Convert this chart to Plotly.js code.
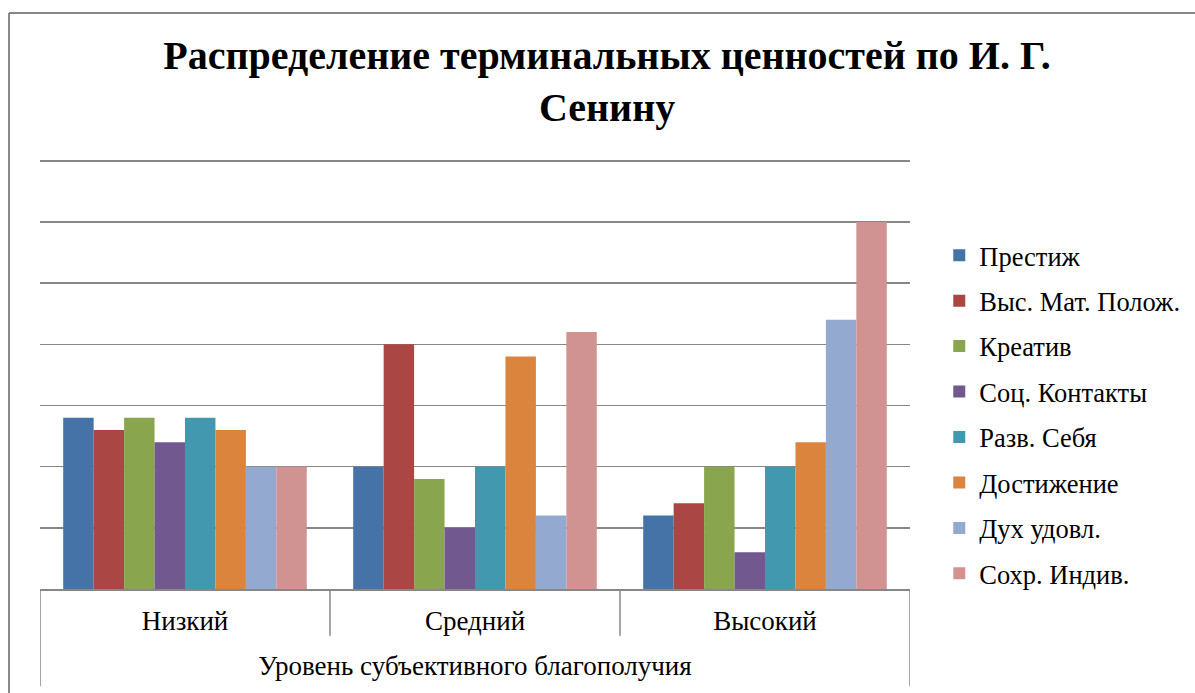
<!DOCTYPE html>
<html>
<head>
<meta charset="utf-8">
<script src="https://cdn.plot.ly/plotly-3.0.1.min.js"></script>
<style>html,body{margin:0;padding:0;background:#fff;}#chart{width:1195px;height:693px;}</style>
</head>
<body>
<div id="chart"></div>
<script>
var categories = ["Низкий", "Средний", "Высокий"];
var seriesNames = ["Престиж", "Выс. Мат. Полож.", "Креатив", "Соц. Контакты", "Разв. Себя", "Достижение", "Дух удовл.", "Сохр. Индив."];
var prestige   = [2.8, 2.0, 1.2];
var material   = [2.6, 4.0, 1.4];
var creative   = [2.8, 1.8, 2.0];
var social     = [2.4, 1.0, 0.6];
var selfDev    = [2.8, 2.0, 2.0];
var achieve    = [2.6, 3.8, 2.4];
var spiritual  = [2.0, 1.2, 4.4];
var individual = [2.0, 4.2, 6.0];
var seriesValues = [prestige, material, creative, social, selfDev, achieve, spiritual, individual];
var colors = ["#4572A7", "#AA4643", "#89A54E", "#71588F", "#4198AF", "#DB843D", "#93A9CF", "#D19392"];

var FAM = "Liberation Serif";

var traces = seriesNames.map(function (name, i) {
  return {
    type: "bar",
    name: name,
    x: categories,
    y: seriesValues[i],
    marker: { color: colors[i], line: { width: 0 } },
    legendgroup: "g" + i,
    hoverinfo: "x+y+name"
  };
});

var gray = "#878787";
var shapes = [];
[-0.5, 0.5, 1.5, 2.5].forEach(function (xv, i) {
  var outer = (i === 0 || i === 3);
  shapes.push({ type: "line", xref: "x", yref: "paper", x0: xv, x1: xv, y0: 0, y1: outer ? -0.226 : -0.109,
    line: { color: gray, width: 1.5 } });
});
// outer chart frame
shapes.push({ type: "line", xref: "paper", yref: "paper", x0: -0.0356, x1: -0.0356, y0: 1.3395, y1: -0.3, line: { color: gray, width: 2 } });
shapes.push({ type: "line", xref: "paper", yref: "paper", x0: -0.0356, x1: 1.4, y0: 1.3395, y1: 1.3395, line: { color: gray, width: 2 } });

var layout = {
  width: 1195,
  height: 693,
  margin: { l: 40, r: 285, t: 159, b: 104 },
  paper_bgcolor: "#ffffff",
  plot_bgcolor: "#ffffff",
  font: { family: FAM, color: "#000000", size: 27 },
  title: {
    text: "<b>Распределение терминальных ценностей по И. Г.<br>Сенину</b>",
    font: { family: FAM, size: 40, color: "#000000" },
    xref: "container", x: 0.508, xanchor: "center",
    yref: "container", y: 0.90, yanchor: "top"
  },
  barmode: "group",
  bargap: 0.16,
  bargroupgap: 0,
  xaxis: {
    type: "category",
    range: [-0.5, 2.5],
    showgrid: false,
    showline: true,
    linecolor: gray,
    linewidth: 1.5,
    ticks: "",
    ticklabelstandoff: 7,
    tickfont: { family: FAM, size: 27, color: "#000000" },
    title: { text: "Уровень субъективного благополучия", font: { family: FAM, size: 27, color: "#000000" }, standoff: 21 },
    fixedrange: true
  },
  yaxis: {
    range: [0, 7.03],
    dtick: 1,
    showgrid: true,
    gridcolor: gray,
    gridwidth: 1.5,
    zeroline: false,
    showline: false,
    showticklabels: false,
    ticks: "",
    fixedrange: true
  },
  legend: {
    xref: "container", x: 0.786, xanchor: "left",
    yref: "container", y: 0.666, yanchor: "top",
    font: { family: FAM, size: 26.5, color: "#000000" },
    traceorder: "grouped",
    tracegroupgap: 8,
    maxheight: 520,
    bgcolor: "rgba(0,0,0,0)"
  },
  shapes: shapes
};

Plotly.newPlot("chart", traces, layout, { displayModeBar: false, staticPlot: true });
</script>
</body>
</html>
